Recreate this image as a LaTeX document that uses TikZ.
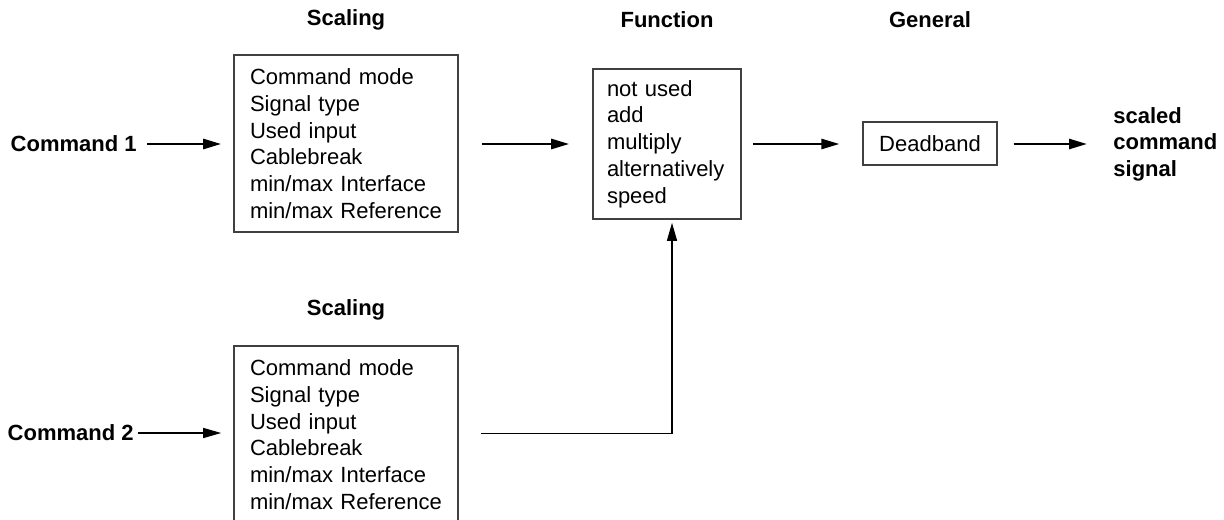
\documentclass[tikz,border=0pt]{standalone}
\usepackage{fontspec}
\setmainfont{Liberation Sans}
\usetikzlibrary{arrows.meta,positioning}

\tikzset{
  block/.style={draw=black!75, line width=0.8pt, align=left,
    font=\fontsize{11}{13.35}\selectfont, inner xsep=8pt},
  title/.style={font=\fontsize{11}{13.3}\selectfont\bfseries},
  sig/.style={line width=1.3pt, -{Triangle[length=9pt,width=5pt]}},
  sigthin/.style={line width=0.7pt, -{Triangle[length=9pt,width=5pt]}}
}

\begin{document}
\begin{tikzpicture}[x=0.5pt,y=-0.5pt]
    \clip (0,0) rectangle (1224,519);

    % draw titles
    \node[title] (tScaleA) at (346,20) {Scaling};
    \node[title] (tFunc) at (667,20) {Function};
    \node[title] (tGen) at (930,20) {General};
    \node[title] (tScaleB) at (346,310) {Scaling};

    % draw inputs
    \node[title, anchor=east, inner sep=0pt] (cmdA) at (137,144) {Command 1};
    \node[title, anchor=east, inner sep=0pt] (cmdB) at (134,433) {Command 2};

    % draw blocks
    \node[block, text width=96pt, minimum height=88.5pt] (scaleA) at (346,143.5)
      {Command mode\\Signal type\\Used input\\Cablebreak\\min/max Interface\\min/max Reference};
    \node[block, text width=96pt, minimum height=88.5pt] (scaleB) at (346,434.5)
      {Command mode\\Signal type\\Used input\\Cablebreak\\min/max Interface\\min/max Reference};
    \node[block, text width=60pt, inner xsep=7pt, minimum height=75pt] (func) at (667,144)
      {not used\\add\\multiply\\alternatively\\speed};
    \node[block, align=center, minimum width=66pt, minimum height=21.5pt] (dead) at (930,143.5)
      {Deadband};
    \node[title, anchor=west, align=left, inner sep=0pt] (out) at (1113,144)
      {scaled\\command\\signal};

    % draw arrows
    \draw[sig, shorten <=5pt, shorten >=6pt] (cmdA.east) -- (cmdA.east -| scaleA.west);
    \draw[sig, shorten <=11.5pt, shorten >=11.5pt] (scaleA.east |- cmdA) -- (scaleA.east |- cmdA -| func.west);
    \draw[sig, shorten <=5.5pt, shorten >=11.5pt] (func.east |- cmdA) -- (cmdA -| dead.west);
    \draw[sig, shorten <=8pt, shorten >=13pt] (dead.east |- cmdA) -- (cmdA -| out.west);
    \draw[sigthin, shorten <=2pt, shorten >=6pt] (cmdB.east) -- (cmdB.east -| scaleB.west);
    \draw[sigthin, shorten <=11pt, shorten >=1.5pt] ([yshift=0.5pt]scaleB.east) -| ([xshift=2.5pt]func.south);
  \end{tikzpicture}
\end{document}
